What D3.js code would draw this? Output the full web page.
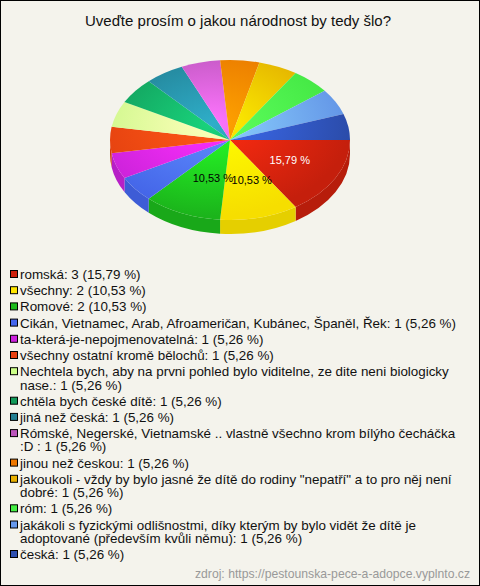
<!DOCTYPE html>
<html>
<head>
<meta charset="utf-8">
<script src="https://cdn.jsdelivr.net/npm/d3@7"></script>
<style>
  body { margin: 0; background: #fff; }
  svg { display: block; font-family: Arial, "Liberation Sans", sans-serif; }
</style>
</head>
<body>
<div id="chart"></div>
<script>
// chart data
const title = "Uveďte prosím o jakou národnost by tedy šlo?";
const source = "zdroj: https://pestounska-pece-a-adopce.vyplnto.cz";

const categories = [
  "romská",
  "všechny",
  "Romové",
  "Cikán, Vietnamec, Arab, Afroameričan, Kubánec, Španěl, Řek",
  "ta-která-je-nepojmenovatelná",
  "všechny ostatní kromě bělochů",
  "Nechtela bych, aby na prvni pohled bylo viditelne, ze dite neni biologicky nase.",
  "chtěla bych české dítě",
  "jiná než česká",
  "Rómské, Negerské, Vietnamské .. vlastně všechno krom bílýho čecháčka :D ",
  "jinou než českou",
  "jakoukoli - vždy by bylo jasné že dítě do rodiny \"nepatří\" a to pro něj není dobré",
  "róm",
  "jakákoli s fyzickými odlišnostmi, díky kterým by bylo vidět že dítě je adoptované (především kvůli němu)",
  "česká"
];
const counts = [3, 2, 2, 1, 1, 1, 1, 1, 1, 1, 1, 1, 1, 1, 1];
const colors = [
  "#cc200c", "#ffe600", "#1cbb1c", "#4466ee", "#cc22dd",
  "#e84010", "#ccff88", "#129a5a", "#227e92", "#bb55bb",
  "#ee7700", "#e8b000", "#44ee44", "#6699ee", "#2d4fb0"
];

const W = 480, H = 586;
const cx = 230, cy = 140, rx = 120, ry = 80, depth = 14;

const total = d3.sum(counts);
const pct = v => d3.format(".2f")(v * 100 / total).replace(".", ",") + " %";

const svg = d3.select("#chart").append("svg")
  .attr("width", W)
  .attr("height", H);

svg.append("rect")
  .attr("x", 0.5).attr("y", 0.5)
  .attr("width", W - 1).attr("height", H - 1)
  .attr("fill", "#f4f3ec")
  .attr("stroke", "#000");

svg.append("text")
  .attr("x", 238).attr("y", 26)
  .attr("text-anchor", "middle")
  .attr("font-size", 15)
  .attr("fill", "#111")
  .text(title);

const data = categories.map((c, i) => ({name: c, value: counts[i], color: colors[i]}));

// pie starts at 3 o'clock, clockwise
const pie = d3.pie().sort(null).value(d => d.value)
  .startAngle(Math.PI / 2).endAngle(Math.PI / 2 + 2 * Math.PI);
const arcs = pie(data);

const defs = svg.append("defs");
arcs.forEach((a, i) => {
  const g = defs.append("radialGradient")
    .attr("id", "grad" + i)
    .attr("gradientUnits", "userSpaceOnUse")
    .attr("cx", -rx * 0.15).attr("cy", -rx * 0.2).attr("r", rx * 1.15);
  g.append("stop").attr("offset", 0).attr("stop-color", d3.color(a.data.color).brighter(0.9));
  g.append("stop").attr("offset", 1).attr("stop-color", d3.color(a.data.color).darker(0.1));
});

// side walls (front half only)
const pt = (a, dy) => [cx + rx * Math.sin(a), cy - ry * Math.cos(a) + (dy || 0)];
const sidePath = a => {
  const a0 = Math.max(a.startAngle, Math.PI / 2);
  const a1 = Math.min(a.endAngle, 3 * Math.PI / 2);
  if (a1 <= a0) return null;
  const p0 = pt(a0), p1 = pt(a1), q1 = pt(a1, depth), q0 = pt(a0, depth);
  return `M${p0}A${rx},${ry} 0 0 1 ${p1}L${q1}A${rx},${ry} 0 0 0 ${q0}Z`;
};

svg.append("g").selectAll("path")
  .data(arcs.filter(a => sidePath(a)))
  .join("path")
  .attr("d", sidePath)
  .attr("fill", a => d3.color(a.data.color).darker(0.3));

const arc = d3.arc().innerRadius(0).outerRadius(rx);
svg.append("g")
  .attr("transform", `translate(${cx},${cy}) scale(1,${ry / rx})`)
  .selectAll("path")
  .data(arcs)
  .join("path")
  .attr("d", arc)
  .attr("fill", (a, i) => `url(#grad${i})`);

// percentage labels for the big slices
svg.append("g").selectAll("text")
  .data(arcs.filter(a => a.data.value / total >= 0.1))
  .join("text")
  .attr("x", a => cx + 0.5 * rx * Math.sin((a.startAngle + a.endAngle) / 2) + 7)
  .attr("y", a => cy - 0.52 * ry * Math.cos((a.startAngle + a.endAngle) / 2) + 4)
  .attr("text-anchor", "middle")
  .attr("font-size", 11)
  .attr("fill", a => d3.lab(a.data.color).l > 55 ? "#000" : "#fff")
  .text(a => pct(a.data.value));

// legend
const legend = svg.append("g");
const maxRight = 463;
let y = 279;
data.forEach(d => {
  const label = `${d.name}: ${d.value} (${pct(d.value)})`;
  legend.append("rect")
    .attr("x", 10.5).attr("y", y - 8.5)
    .attr("width", 7).attr("height", 7)
    .attr("fill", d.color)
    .attr("stroke", "#000");
  const t = legend.append("text")
    .attr("font-size", 13.4)
    .attr("fill", "#111");
  const words = label.split(" ");
  let line = [];
  let tspan = t.append("tspan").attr("x", 20).attr("y", y);
  words.forEach(w => {
    line.push(w);
    tspan.text(line.join(" "));
    if (20 + tspan.node().getComputedTextLength() > maxRight && line.length > 1) {
      line.pop();
      tspan.text(line.join(" "));
      line = [w];
      y += 13.3;
      tspan = t.append("tspan").attr("x", 20).attr("y", y).text(w);
    }
  });
  y += 16.2;
});

svg.append("text")
  .attr("x", 470).attr("y", 578)
  .attr("text-anchor", "end")
  .attr("font-size", 12.2)
  .attr("fill", "#999")
  .text(source);
</script>
</body>
</html>
